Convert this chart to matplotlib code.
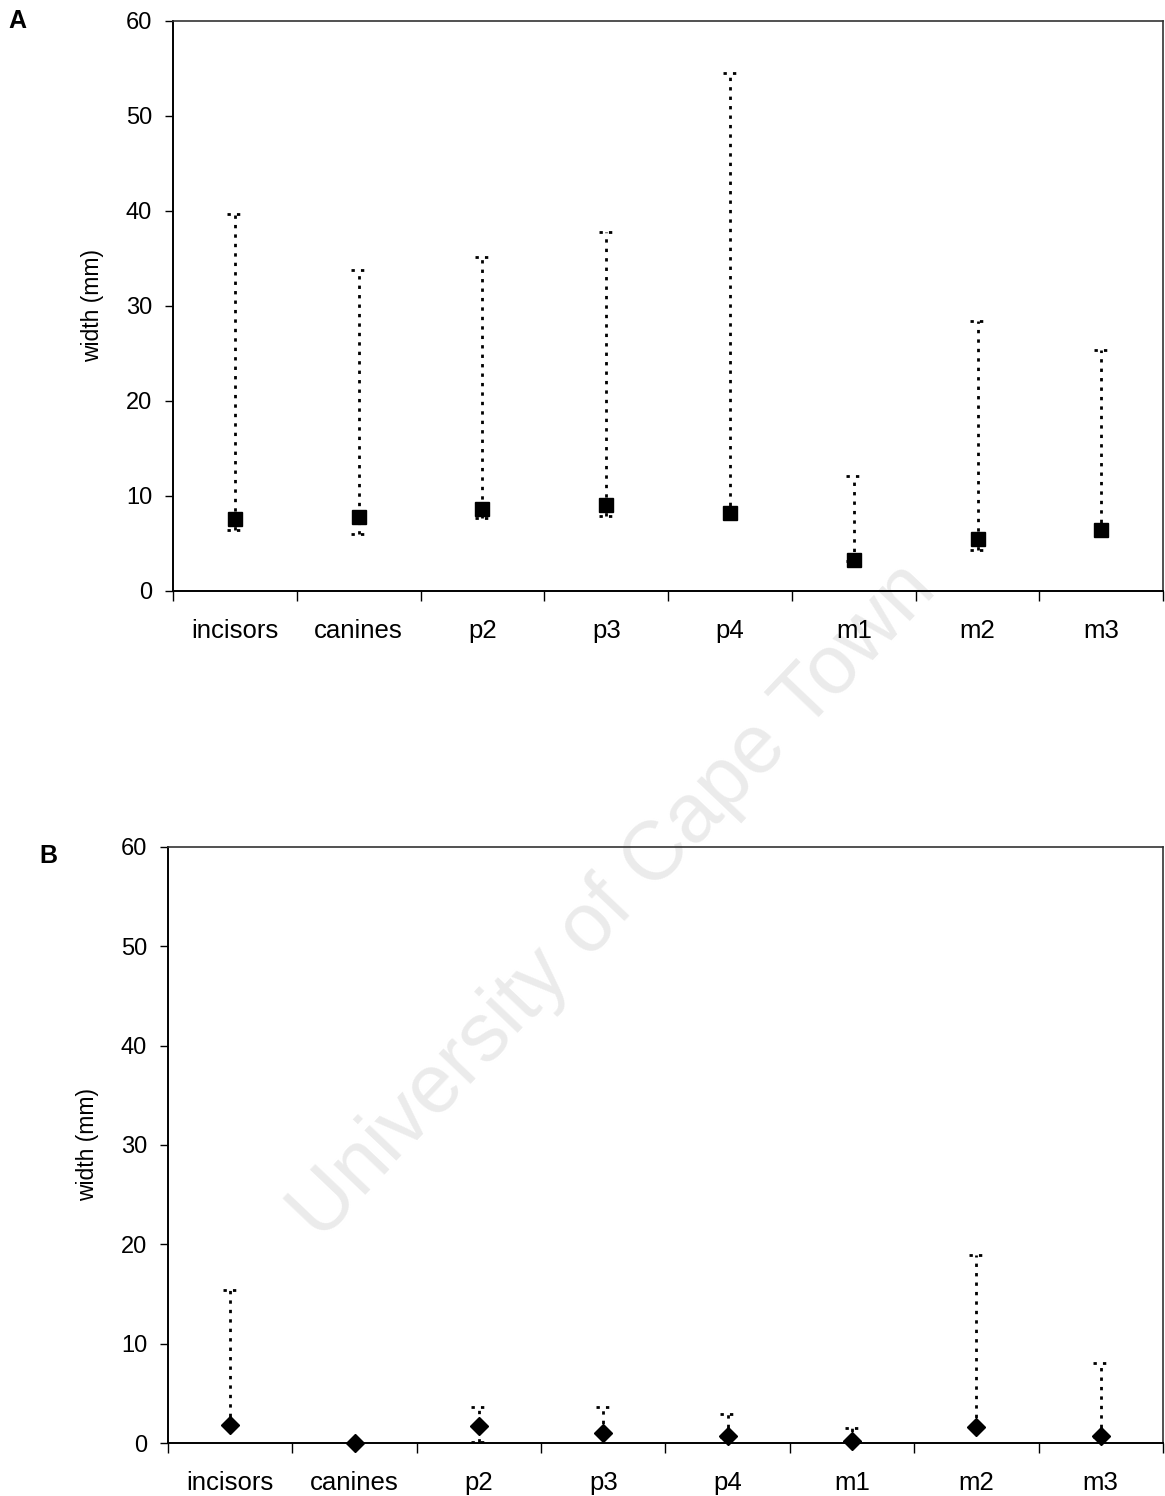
import matplotlib
matplotlib.use("Agg")
import matplotlib.pyplot as plt
import numpy as np

plt.rcParams['font.family'] = ['Liberation Sans', 'DejaVu Sans']

teeth = ["incisors", "canines", "p2", "p3", "p4", "m1", "m2", "m3"]

# Panel A: mean width with min/max range
a_mean = [7.6, 7.8, 8.6, 9.0, 8.2, 3.3, 5.5, 6.4]
a_low = [6.4, 6.0, 7.7, 7.9, 8.0, 3.2, 4.3, 6.2]
a_high = [39.7, 33.8, 35.2, 37.8, 54.5, 12.1, 28.4, 25.4]

# Panel B: mean width with min/max range
b_mean = [1.8, 0.0, 1.75, 1.05, 0.7, 0.25, 1.65, 0.7]
b_low = [1.7, 0.0, 0.15, 1.0, 0.6, 0.2, 1.6, 0.6]
b_high = [15.4, 0.0, 3.6, 3.6, 2.9, 1.55, 18.9, 8.05]

yticks = [0, 10, 20, 30, 40, 50, 60]

fig = plt.figure(figsize=(11.65, 14.96), dpi=100)
ax_a = fig.add_axes([0.1485, 0.605, 0.850, 0.381])
ax_b = fig.add_axes([0.1442, 0.0354, 0.854, 0.3985])


def draw_panel(ax, mean, low, high, marker, msize):
    x = np.arange(len(teeth)) + 0.5
    cap = 0.06
    for xi, lo, hi in zip(x, low, high):
        if hi > lo:
            ax.vlines(xi, lo, hi, colors="black", linestyles=(0, (1.2, 2.2)),
                      linewidth=2.0, zorder=2)
        ax.hlines([lo, hi], xi - cap, xi + cap, colors="black",
                  linestyles=(0, (1.2, 2.2)), linewidth=2.0, zorder=2)
    ax.plot(x, mean, linestyle="none", marker=marker, markersize=msize,
            color="black", zorder=3, clip_on=False)
    ax.set_xlim(0, len(teeth))
    ax.set_ylim(0, 60)
    ax.set_yticks(yticks)
    ax.set_yticklabels([str(v) for v in yticks], fontsize=17)
    ax.set_xticks(np.arange(len(teeth) + 1))
    ax.set_xticklabels([])
    ax.set_xticks(x, minor=True)
    ax.set_xticklabels(teeth, minor=True, fontsize=18.5)
    ax.tick_params(axis="x", which="major", direction="out", length=7, width=1)
    ax.tick_params(axis="x", which="minor", length=0, pad=20)
    ax.tick_params(axis="y", direction="out", length=6, width=1, pad=9)
    ax.set_ylabel("width (mm)", fontsize=16.5, labelpad=16)
    ax.patch.set_alpha(0)
    for side in ("left", "bottom"):
        ax.spines[side].set_linewidth(1.4)
        ax.spines[side].set_color("black")
    for side in ("top", "right"):
        ax.spines[side].set_linewidth(1.2)
        ax.spines[side].set_color("#333333")


draw_panel(ax_a, a_mean, a_low, a_high, "s", 10.5)
draw_panel(ax_b, b_mean, b_low, b_high, "D", 9)

fig.text(0.007, 0.986, "A", fontsize=18, fontweight="bold", va="center", ha="left")
fig.text(0.034, 0.428, "B", fontsize=18, fontweight="bold", va="center", ha="left")

# Repository watermark across the page, behind the plots
fig.text(0.527, 0.397, "University of Cape Town", fontsize=60, color="#ebebeb",
         rotation=46.5, ha="center", va="center", zorder=-1)

fig.savefig("out.png", dpi=100)
